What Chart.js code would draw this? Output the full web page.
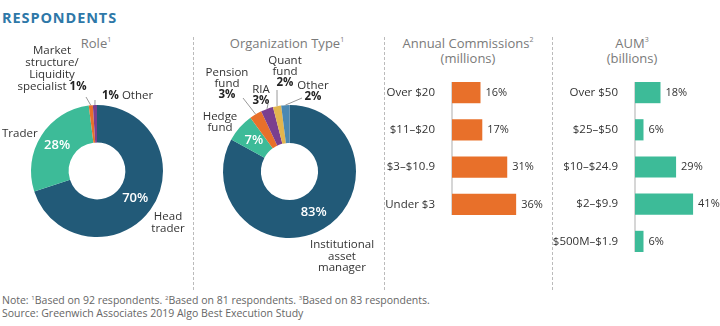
<!DOCTYPE html>
<html>
<head>
<meta charset="utf-8">
<script src="https://cdn.jsdelivr.net/npm/chart.js@4/dist/chart.umd.min.js"></script>
<style>
  body { margin: 0; background: #fff; font-family: 'Open Sans', sans-serif; }
  #wrap { position: relative; width: 720px; height: 326px; overflow: hidden; }
  canvas { position: absolute; }
  .t { position: absolute; white-space: nowrap; }
  .head { left: 2px; top: 8px; font-size: 14.5px; font-weight: 700; color: #2e78a8; letter-spacing: 0.9px; }
  .sub { font-size: 13px; color: #7a7a7a; text-align: center; line-height: 15px; transform: translateX(-50%); }
  .sub sup { font-size: 7px; vertical-align: 6px; }
  .lab { font-size: 11.5px; color: #333; line-height: 11.5px; }
  .c { text-align: center; transform: translateX(-50%); }
  .lab b { font-weight: 700; color: #222; }
  .sep { position: absolute; top: 37px; height: 253px; border-left: 1px dashed #bbb; width: 0; }
  .note { left: 2px; top: 292px; font-size: 10.5px; color: #666; line-height: 13px; }
  .note sup { font-size: 6px; vertical-align: 4px; }
</style>
</head>
<body>
<div id="wrap">
  <div class="t head">RESPONDENTS</div>

  <div class="t sub" style="left:96px; top:32px">Role<sup>1</sup></div>
  <div class="t sub" style="left:287px; top:32px">Organization Type<sup>1</sup></div>
  <div class="t sub" style="left:468px; top:32px">Annual Commissions<sup>2</sup><br>(millions)</div>
  <div class="t sub" style="left:632px; top:32px">AUM<sup>3</sup><br>(billions)</div>

  <div class="sep" style="left:193px"></div>
  <div class="sep" style="left:384px"></div>
  <div class="sep" style="left:552px"></div>

  <canvas id="role" width="192" height="250" style="left:0; top:37px"></canvas>
  <canvas id="org" width="189" height="250" style="left:194px; top:37px"></canvas>
  <canvas id="comm" width="180" height="149" style="left:370px; top:74px"></canvas>
  <canvas id="aum" width="180" height="186" style="left:540px; top:74px"></canvas>

  <!-- donut labels -->
  <div class="t lab c" style="left:52px; top:44px; line-height:12px">Market<br>structure/<br>Liquidity<br>specialist <b>1%</b></div>
  <div class="t lab" style="left:102px; top:89px"><b>1%</b> Other</div>
  <div class="t lab" style="left:2px; top:127px">Trader</div>
  <div class="t lab c" style="left:168px; top:210px">Head<br>trader</div>

  <div class="t lab c" style="left:227px; top:66px; line-height:11px">Pension<br>fund<br><b>3%</b></div>
  <div class="t lab c" style="left:261px; top:83px; line-height:11px">RIA<br><b>3%</b></div>
  <div class="t lab c" style="left:285px; top:54px; line-height:11px">Quant<br>fund<br><b>2%</b></div>
  <div class="t lab c" style="left:313px; top:80px; line-height:10.5px">Other<br><b>2%</b></div>
  <div class="t lab c" style="left:220px; top:111px; line-height:10.5px">Hedge<br>fund</div>
  <div class="t lab c" style="left:342px; top:238px">Institutional<br>asset<br>manager</div>

  <div class="t note">Note: <sup>1</sup>Based on 92 respondents. <sup>2</sup>Based on 81 respondents. <sup>3</sup>Based on 83 respondents.<br>Source: Greenwich Associates 2019 Algo Best Execution Study</div>
</div>

<script>
// data
var roleLabels = ['Head trader', 'Trader', 'Market structure/Liquidity specialist', 'Other'];
var roleValues = [70, 28, 1, 1];
var roleColors = ['#225a78', '#3dbb98', '#e8702a', '#7b3f8e'];

var orgLabels = ['Institutional asset manager', 'Hedge fund', 'Pension fund', 'RIA', 'Quant fund', 'Other'];
var orgValues = [83, 7, 3, 3, 2, 2];
var orgColors = ['#225a78', '#3dbb98', '#e8702a', '#7b3f8e', '#e2b54e', '#4a88b2'];

var commLabels = ['Over $20', '$11–$20', '$3–$10.9', 'Under $3'];
var commValues = [16, 17, 31, 36];

var aumLabels = ['Over $50', '$25–$50', '$10–$24.9', '$2–$9.9', '$500M–$1.9'];
var aumValues = [18, 6, 29, 41, 6];

Chart.defaults.font.family = "'Open Sans', sans-serif";
Chart.defaults.color = '#333';

// percent inside big slices + leader lines to small slices
// leaders: slice index -> start point in canvas coords
function donutDeco(inner, leaders) {
    return {
        id: 'donutDeco',
        afterDatasetsDraw: function(chart) {
            var ctx = chart.ctx;
            var arcs = chart.getDatasetMeta(0).data;
            var vals = chart.data.datasets[0].data;
            ctx.save();
            ctx.fillStyle = '#fff';
            ctx.font = "600 13px 'Open Sans'";
            ctx.textAlign = 'center';
            ctx.textBaseline = 'middle';
            inner.forEach(function(i) {
                var p = arcs[i].tooltipPosition();
                ctx.fillText(vals[i] + '%', p.x, p.y);
            });
            ctx.strokeStyle = '#999';
            ctx.lineWidth = 1;
            Object.keys(leaders).forEach(function(k) {
                var a = arcs[k];
                var mid = (a.startAngle + a.endAngle) / 2;
                var ex = a.x + Math.cos(mid) * a.outerRadius;
                var ey = a.y + Math.sin(mid) * a.outerRadius;
                ctx.beginPath();
                ctx.moveTo(leaders[k][0], leaders[k][1]);
                ctx.lineTo(ex, ey);
                ctx.stroke();
            });
            ctx.restore();
        }
    };
}

function donut(id, labels, values, colors, pad, inner, leaders) {
    var ctx = document.getElementById(id).getContext('2d');
    return new Chart(ctx, {
        type: 'doughnut',
        data: {
            labels: labels,
            datasets: [{
                data: values,
                backgroundColor: colors,
                borderWidth: 0
            }]
        },
        options: {
            responsive: false,
            animation: false,
            events: [],
            cutout: '43%',
            layout: { padding: pad },
            plugins: { legend: { display: false }, tooltip: { enabled: false } }
        },
        plugins: [donutDeco(inner, leaders)]
    });
}

donut('role', roleLabels, roleValues, roleColors,
    { left: 31, right: 29, top: 68, bottom: 50 }, [0, 1],
    { 2: [86, 60], 3: [95, 63] });

donut('org', orgLabels, orgValues, orgColors,
    { left: 29, right: 27, top: 68, bottom: 49 }, [0, 1],
    { 2: [49, 61], 3: [74, 67], 4: [83, 53], 5: [108, 61] });

// value labels + short grey axis line
var barDeco = {
    id: 'barDeco',
    beforeDatasetsDraw: function(chart) {
        var bars = chart.getDatasetMeta(0).data;
        var ctx = chart.ctx;
        var first = bars[0], last = bars[bars.length - 1];
        ctx.save();
        ctx.strokeStyle = '#c8c8c8';
        ctx.lineWidth = 1.5;
        ctx.beginPath();
        ctx.moveTo(chart.chartArea.left, first.y - first.height / 2);
        ctx.lineTo(chart.chartArea.left, last.y + last.height / 2);
        ctx.stroke();
        ctx.restore();
    },
    afterDatasetsDraw: function(chart) {
        var bars = chart.getDatasetMeta(0).data;
        var vals = chart.data.datasets[0].data;
        var ctx = chart.ctx;
        ctx.save();
        ctx.fillStyle = '#333';
        ctx.font = "11px 'Open Sans'";
        ctx.textBaseline = 'middle';
        bars.forEach(function(b, i) {
            ctx.fillText(vals[i] + '%', b.x + 5, b.y);
        });
        ctx.restore();
    }
};

function hbar(id, labels, values, color, axisW, max) {
    var ctx = document.getElementById(id).getContext('2d');
    return new Chart(ctx, {
        type: 'bar',
        data: {
            labels: labels,
            datasets: [{
                data: values,
                backgroundColor: color,
                categoryPercentage: 1,
                barPercentage: 0.57
            }]
        },
        options: {
            indexAxis: 'y',
            responsive: false,
            animation: false,
            events: [],
            plugins: { legend: { display: false }, tooltip: { enabled: false } },
            scales: {
                x: { display: false, min: 0, max: max },
                y: {
                    grid: { display: false },
                    border: { display: false },
                    ticks: { color: '#333', font: { size: 11.5 }, padding: 9 },
                    afterFit: function(s) {
                        s.width = axisW;
                        s.paddingTop = 0;
                        s.paddingBottom = 0;
                    }
                }
            }
        },
        plugins: [barDeco]
    });
}

hbar('comm', commLabels, commValues, '#e8702a', 82, 55);
hbar('aum', aumLabels, aumValues, '#3dbb98', 95, 60);
</script>
</body>
</html>
